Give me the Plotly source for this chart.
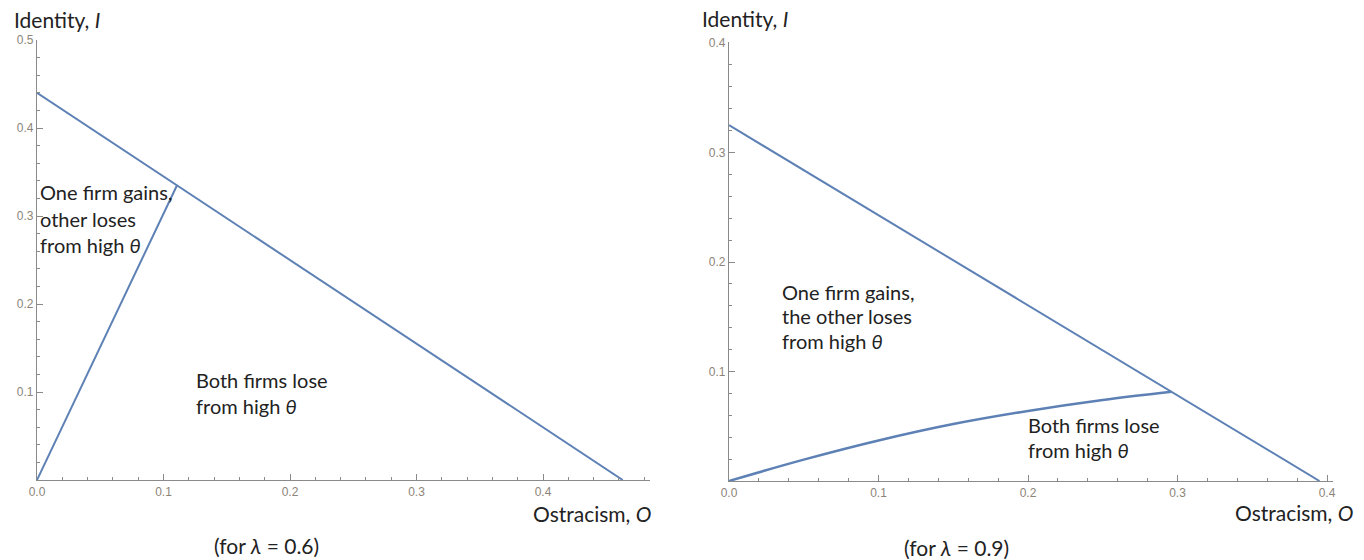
import plotly.graph_objects as go

W, H = 1364, 560

# ---- data ----
left_boundary_O = [0.0, 0.463]
left_boundary_I = [0.44, 0.0]
left_split_O = [0.0, 0.1107]
left_split_I = [0.0, 0.335]

right_boundary_O = [0.0, 0.395]
right_boundary_I = [0.325, 0.0]
right_curve_O = [0.0, 0.05, 0.1, 0.15, 0.2, 0.25, 0.296]
right_curve_I = [0.0, 0.0195, 0.037, 0.052, 0.064, 0.074, 0.0815]

left_xticks = [0.0, 0.1, 0.2, 0.3, 0.4]
left_yticks = [0.1, 0.2, 0.3, 0.4, 0.5]
right_xticks = [0.0, 0.1, 0.2, 0.3, 0.4]
right_yticks = [0.1, 0.2, 0.3, 0.4]

LINE = "#5e81b5"
AX = "#8a8a8a"
TICKFONT = dict(family="Liberation Sans, Arial", size=12, color="#8c8478")
TXT = dict(family="Lato, Open Sans, sans-serif", size=20, color="#222222")
TITLE = dict(family="Lato, Open Sans, sans-serif", size=21, color="#222222")

def px(x): return x / W
def py(y): return 1 - y / H

fig = go.Figure()
for xs, ys, xa, ya in [
    (left_boundary_O, left_boundary_I, "x", "y"),
    (left_split_O, left_split_I, "x", "y"),
    (right_boundary_O, right_boundary_I, "x2", "y2"),
]:
    fig.add_trace(go.Scatter(x=xs, y=ys, mode="lines", xaxis=xa, yaxis=ya,
                             line=dict(color=LINE, width=2), hoverinfo="skip"))
fig.add_trace(go.Scatter(x=right_curve_O, y=right_curve_I, mode="lines",
                         xaxis="x2", yaxis="y2",
                         line=dict(color=LINE, width=2.5, shape="spline", smoothing=1.0),
                         hoverinfo="skip"))

def axis(domain, rng, ticks, anchor, fmt):
    return dict(domain=domain, range=rng, anchor=anchor, showgrid=False, zeroline=False,
                automargin=False,
                showline=True, linecolor=AX, linewidth=1.3,
                ticks="inside", ticklen=6, tickcolor=AX, tickwidth=1,
                tickvals=ticks, ticktext=[fmt % t for t in ticks], tickfont=TICKFONT,
                minor=dict(ticks="inside", ticklen=3, dtick=0.02, tick0=0, tickcolor=AX),
                fixedrange=True)

lx0, lx1, ly0, ly1 = 37, 650, 480, 40
rx0, rx1, ry0, ry1 = 729, 1333, 481, 42

fig.update_layout(
    width=W, height=H, margin=dict(l=0, r=0, t=0, b=0, autoexpand=False),
    paper_bgcolor="white", plot_bgcolor="white", showlegend=False,
    xaxis=axis([px(lx0), px(lx1)], [0, (lx1 - lx0) / 1265.0], left_xticks, "y", "%.1f"),
    yaxis=axis([py(ly0), py(ly1)], [0, (ly0 - ly1) / 880.0], left_yticks, "x", "%.1f"),
    xaxis2=axis([px(rx0), px(rx1)], [0, (rx1 - rx0) / 1495.0], right_xticks, "y2", "%.1f"),
    yaxis2=axis([py(ry0), py(ry1)], [0, (ry0 - ry1) / 1095.0], right_yticks, "x2", "%.1f"),
)

annos = [
    ("Identity, <i>I</i>", 12, 20, "left", TITLE),
    ("Ostracism, <i>O</i>", 653, 513, "right", TITLE),
    ("(for <i>λ</i> = 0.6)", 266, 545, "center", TITLE),
    ("Identity, <i>I</i>", 700, 18, "left", TITLE),
    ("Ostracism, <i>O</i>", 1355, 512, "right", TITLE),
    ("(for <i>λ</i> = 0.9)", 956, 547, "center", TITLE),
    ("One firm gains,", 38, 192, "left", TXT),
    ("other loses", 38, 219, "left", TXT),
    ("from high <i>θ</i>", 38, 245, "left", TXT),
    ("Both firms lose", 194, 380, "left", TXT),
    ("from high <i>θ</i>", 194, 406, "left", TXT),
    ("One firm gains,", 780, 292, "left", TXT),
    ("the other loses", 780, 316, "left", TXT),
    ("from high <i>θ</i>", 780, 341, "left", TXT),
    ("Both firms lose", 1026, 425, "left", TXT),
    ("from high <i>θ</i>", 1026, 450, "left", TXT),
]
for text, x, y, al, f in annos:
    fig.add_annotation(text=text, x=px(x), y=py(y), xref="paper", yref="paper",
                       xanchor=al, yanchor="middle", showarrow=False, font=f,
                       align=al)

fig.write_html("out.html")
